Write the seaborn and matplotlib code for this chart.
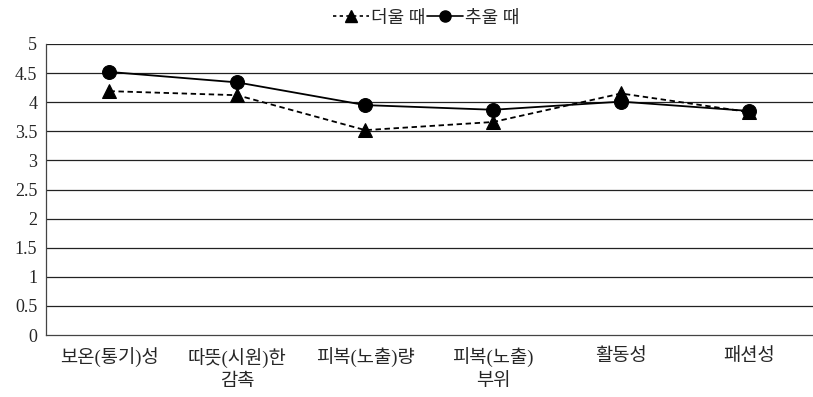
import matplotlib
matplotlib.use("Agg")
import matplotlib.pyplot as plt
import seaborn as sns
import pandas as pd
from matplotlib.lines import Line2D

categories = ["보온(통기)성", "따뜻(시원)한\n감촉", "피복(노출)량", "피복(노출)\n부위", "활동성", "패션성"]
hot_values = [4.19, 4.12, 3.52, 3.66, 4.15, 3.83]
cold_values = [4.52, 4.34, 3.95, 3.87, 4.01, 3.85]
series_names = ["더울 때", "추울 때"]
y_ticks = [0, 0.5, 1, 1.5, 2, 2.5, 3, 3.5, 4, 4.5, 5]

df = pd.DataFrame({
    "category": categories * 2,
    "value": hot_values + cold_values,
    "series": [series_names[0]] * len(categories) + [series_names[1]] * len(categories),
})
df["pos"] = list(range(len(categories))) * 2

sns.set_style("white")
plt.rcParams["font.family"] = ["Liberation Serif", "Noto Sans CJK KR", "DejaVu Sans"]

fig = plt.figure(figsize=(8.13, 3.97), dpi=100)
ax = fig.add_axes([45.5 / 813, 1 - 335 / 397, 1 - 45.5 / 813, (335 - 44) / 397])

sns.lineplot(
    data=df, x="pos", y="value", hue="series", style="series",
    palette={series_names[0]: "black", series_names[1]: "black"},
    markers={series_names[0]: "^", series_names[1]: "o"},
    dashes={series_names[0]: (3, 2), series_names[1]: ""},
    markersize=10, linewidth=1.3, ax=ax, legend=False, sort=False,
    markeredgecolor="black",
)

ax.set_xlim(-0.5, (813 - 45.5) / 129 - 0.5)
ax.set_ylim(0, 5)
ax.set_yticks(y_ticks)
ax.set_yticklabels([("%g" % v) for v in y_ticks], fontsize=13)
ax.set_xticks(range(len(categories)))
ax.set_xticklabels(categories, fontsize=13.5, linespacing=1.45)
ax.set_xticks([i + 0.5 for i in range(-1, len(categories))], minor=True)
ax.tick_params(axis="x", which="major", length=0, pad=9)
ax.tick_params(axis="x", which="minor", length=4, width=0.8, color="#555555", direction="out")
ax.tick_params(axis="y", length=4, width=0.8, color="#555555", direction="out", pad=2)

for v in y_ticks[1:]:
    ax.axhline(v, color="#222222", linewidth=0.9, zorder=0)

for s in ["top", "right"]:
    ax.spines[s].set_visible(False)
for s in ["left", "bottom"]:
    ax.spines[s].set_color("#444444")
    ax.spines[s].set_linewidth(0.9)
ax.set_xlabel("")
ax.set_ylabel("")

handles = [
    Line2D([], [], color="black", linestyle=(0, (2, 2)), marker="^", markersize=8, linewidth=1.2),
    Line2D([], [], color="black", linestyle="-", marker="o", markersize=8, linewidth=1.2),
]
fig.legend(handles, series_names, loc="center", bbox_to_anchor=(0.524, 1 - 18 / 397),
           ncol=2, frameon=False, fontsize=13, handlelength=2.0, columnspacing=0.1,
           handletextpad=0.1)

fig.savefig("out.png", dpi=100)
